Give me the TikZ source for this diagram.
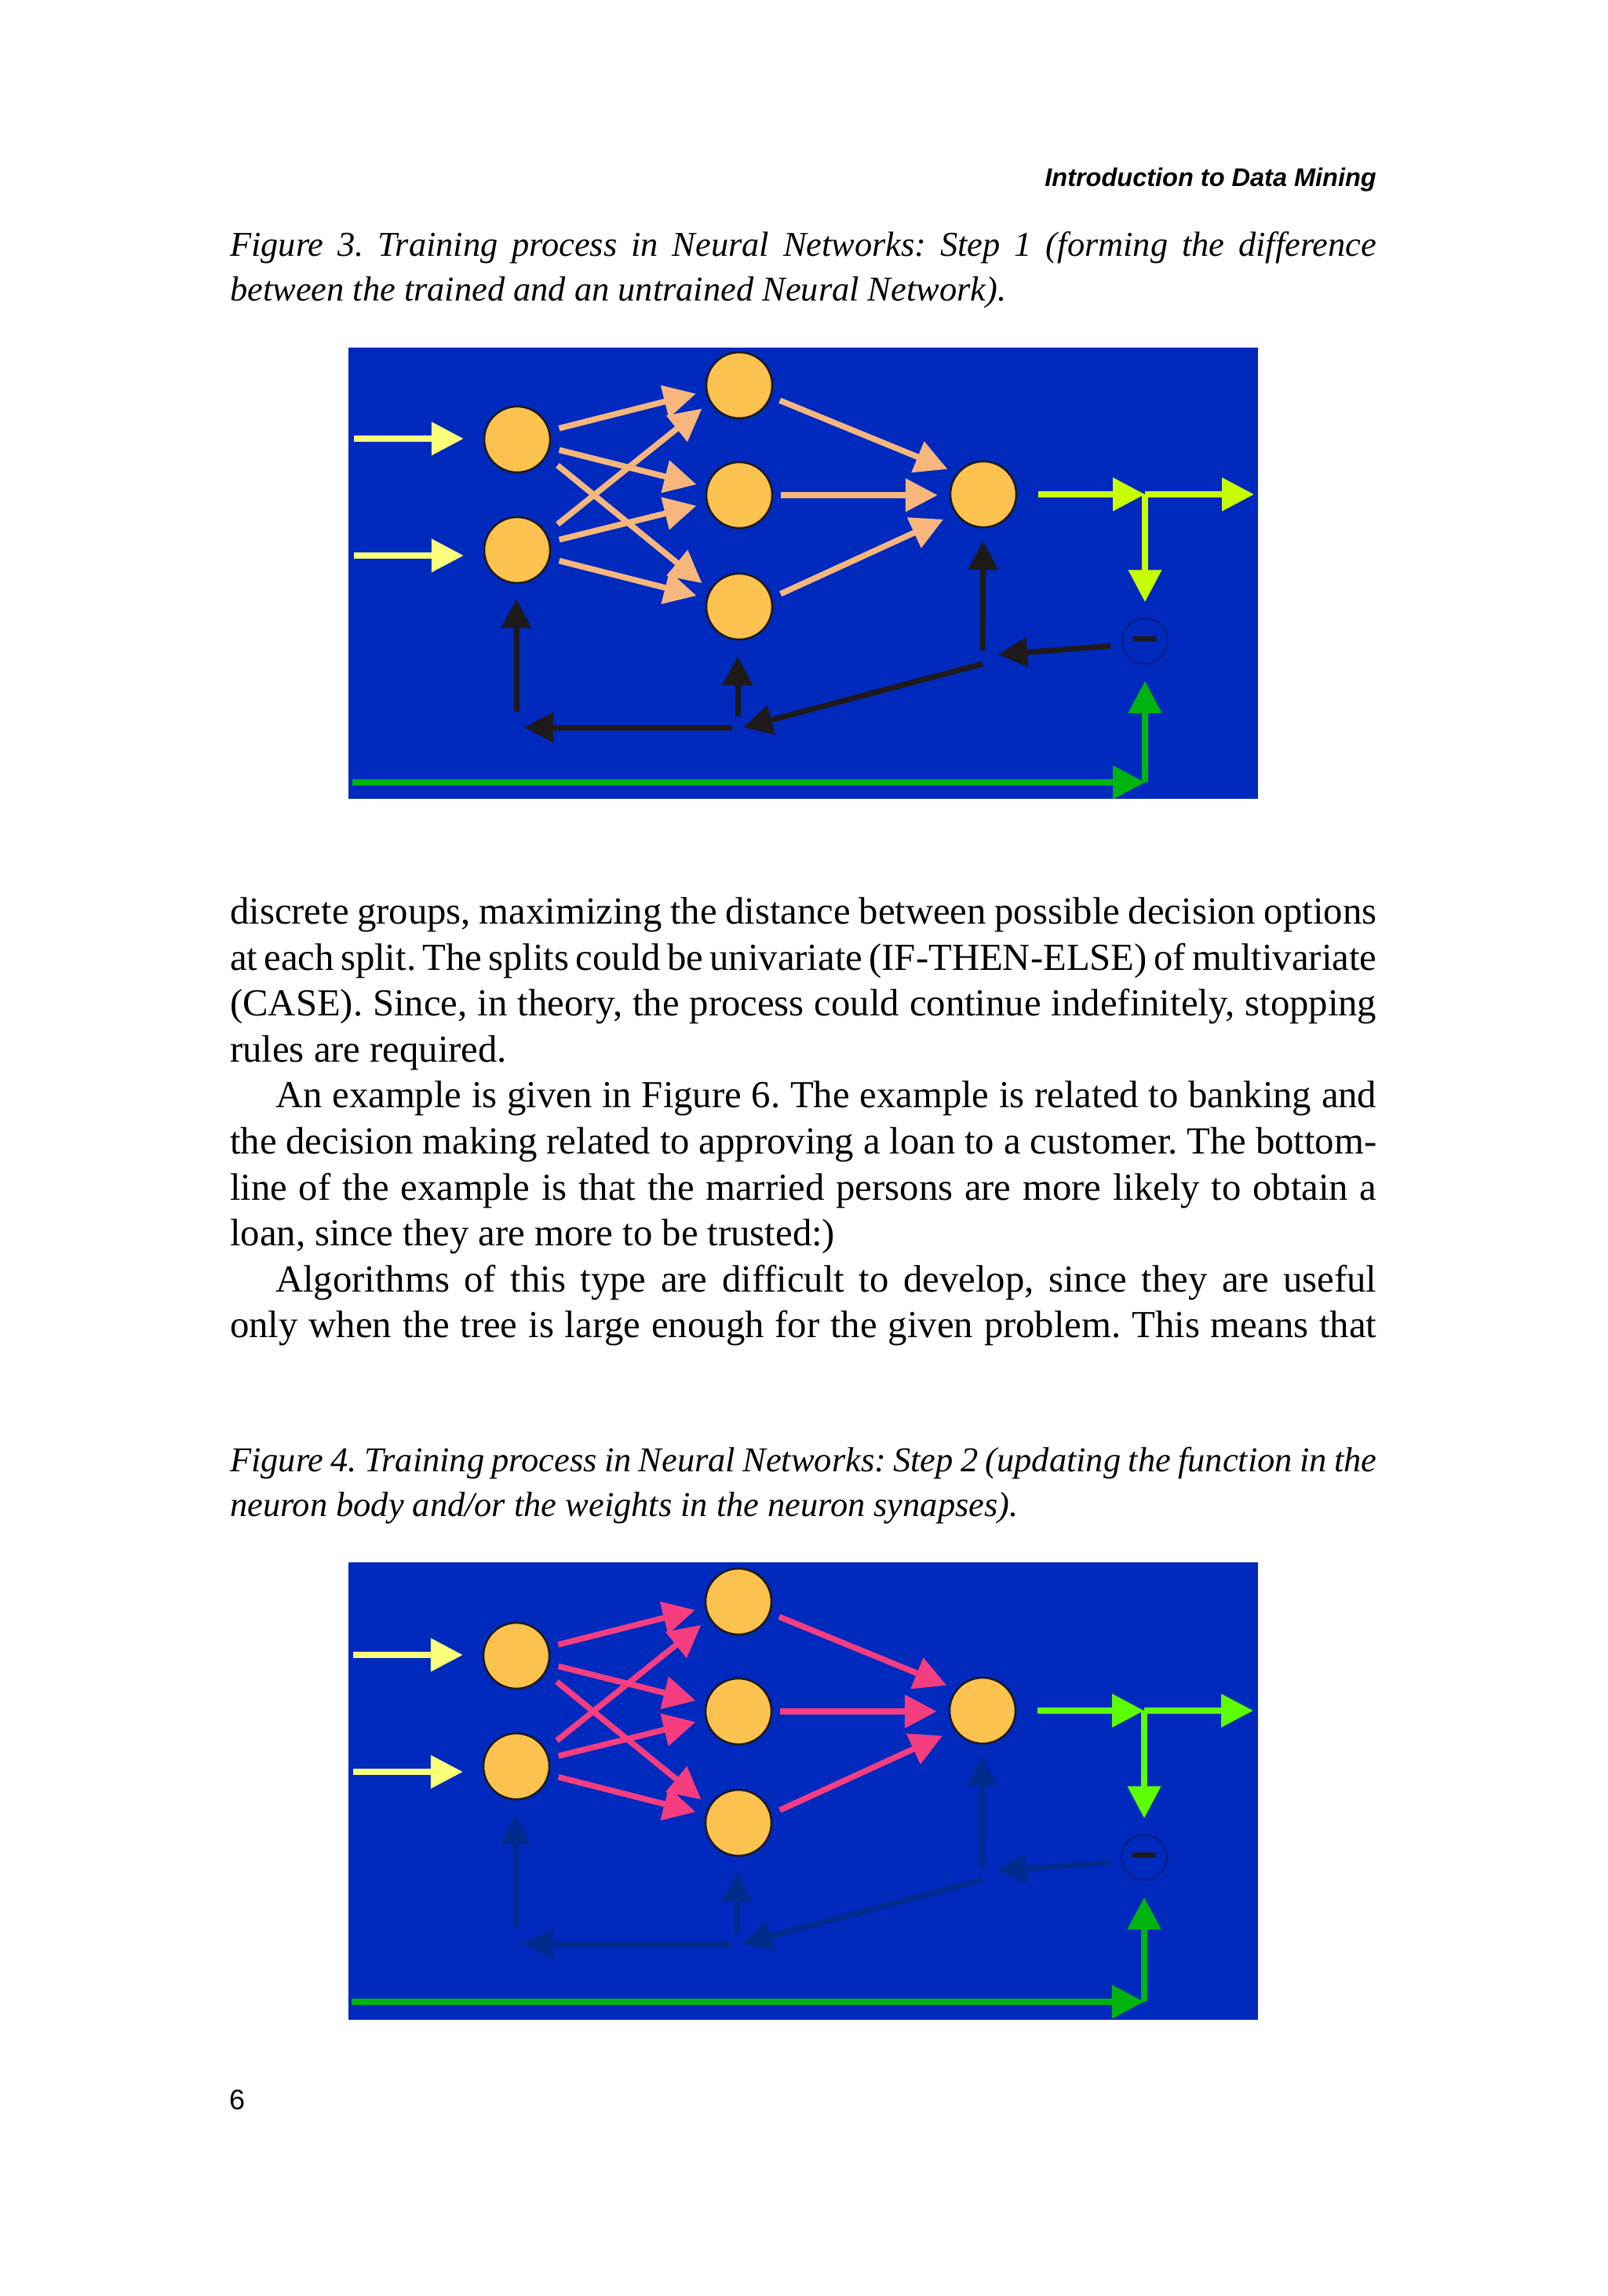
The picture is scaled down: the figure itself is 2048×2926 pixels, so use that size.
\documentclass[tikz,border=0pt]{standalone}
\usepackage{fontspec}
\setmainfont{Liberation Serif}
\newfontfamily\headfont{Liberation Sans}
\usetikzlibrary{arrows.meta}
\definecolor{netblue}{HTML}{0029BE}
\definecolor{bodyfill}{HTML}{FCC24F}
\definecolor{bodyedge}{HTML}{1E1A1A}
\definecolor{inyellow}{HTML}{FAFF7A}
\definecolor{salmon}{HTML}{F7B77C}
\definecolor{rosepink}{HTML}{F53D7F}
\definecolor{limegreen}{HTML}{C8FF00}
\definecolor{brightgreen}{HTML}{5CFF00}
\definecolor{darkgreen}{HTML}{00B410}
\definecolor{backblack}{HTML}{1E1A1A}
\definecolor{backnavy}{HTML}{002A8C}
\definecolor{diffedge}{HTML}{0A1A70}
\newcommand{\justline}[2][1461pt]{\hbox to #1{\frenchspacing\spaceskip=.25em plus 1em minus .2em #2}}
\tikzset{
  neuron/.style={circle,draw=bodyedge,fill=bodyfill,line width=2.5pt,minimum size=84pt,inner sep=0pt},
  diffnode/.style={circle,draw=diffedge,line width=1.5pt,minimum size=58pt,inner sep=0pt,text=bodyedge,font=\headfont\bfseries\fontsize{60}{60}\selectfont},
  wire/.style={line width=7.5pt,-{Triangle[length=41pt,width=41pt]}},
  synapse/.style={wire,shorten <=12pt,shorten >=13pt},
  backwire/.style={line width=7pt,-{Triangle[length=37pt,width=37pt]}},
  bodytext/.style={anchor=base west,inner sep=0pt,font=\frenchspacing\fontsize{48.7}{58}\selectfont},
  captext/.style={anchor=base west,inner sep=0pt,font=\frenchspacing\itshape\fontsize{44.4}{57}\selectfont},
}
% #1 shift, #2 prefix, #3 synapses, #4 output, #5 feedback, #6 bottom offset
\newcommand{\trainnet}[6]{
  \begin{scope}[shift={#1},name prefix=#2-]
    \node[neuron] (n11) at (659,560) {};
    \node[neuron] (n12) at (659,701) {};
    \node[neuron] (n21) at (942,491) {};
    \node[neuron] (n22) at (942,631) {};
    \node[neuron] (n23) at (942,773) {};
    \node[neuron] (out) at (1253,630) {};
    \node[diffnode] (diff) at (1459,817) {\raisebox{-.57em}{\smash{−}}};
    \coordinate (in1) at (451,559);
    \coordinate (in2) at (451,708);
    \coordinate (split) at (1459,630);
    \coordinate (exit) at (1598,630);
    \coordinate (fbin) at (1272,834);
    \coordinate (fbup) at (1252,829);
    \coordinate (fbdiag) at (1252,846);
    \coordinate (fbjoin) at (947,927);
    \coordinate (fbmid) at (940,913);
    \coordinate (fbright) at (933,927);
    \coordinate (fbleft) at (668,927);
    \coordinate (fbn12) at (658,907);
    \coordinate (target) at (449,997+#6);
    \coordinate (corner) at (1459,997+#6);
    \begin{scope}[inyellow]
      \draw[wire,shorten >=25pt] (in1) -- (in1 -| n11.west);
      \draw[wire,shorten >=25pt] (in2) -- (in2 -| n12.west);
    \end{scope}
    \begin{scope}[#3]
      \draw[synapse] (n11.15) -- (n21.190);
      \draw[synapse] (n11) -- (n22);
      \draw[synapse,shorten <=18pt] (n11.-30) -- (n23.150);
      \draw[synapse,shorten <=18pt] (n12.30) -- (n21.210);
      \draw[synapse] (n12) -- (n22);
      \draw[synapse] (n12) -- (n23);
      \draw[synapse] (n21.-20) -- (out.141);
      \draw[synapse,shorten <=10pt,shorten >=15pt] (n22.east) -- (n22.east -| out.west);
      \draw[synapse,shorten >=17pt] (n23.15) -- (out.215);
    \end{scope}
    \begin{scope}[#4]
      \draw[wire,shorten <=27pt] (out.east) -- (split);
      \draw[wire] (split) -- (exit);
      \draw[wire,shorten >=20pt] (split) -- (diff.north);
    \end{scope}
    \begin{scope}[#5]
      \draw[backwire,shorten <=15pt] (diff.190) -- (fbin);
      \draw[backwire,shorten >=16pt] (fbup) -- (out.south);
      \draw[backwire] (fbdiag) -- (fbjoin);
      \draw[backwire,shorten >=20pt] (fbmid) -- (fbmid |- n23.south);
      \draw[backwire] (fbright) -- (fbleft);
      \draw[backwire,shorten >=19pt] (fbn12) -- (fbn12 |- n12.south);
    \end{scope}
    \begin{scope}[darkgreen]
      \draw[wire] (target) -- (corner);
      \draw[wire,shorten >=21pt] (corner) -- (diff.south);
    \end{scope}
  \end{scope}
}
\begin{document}
\begin{tikzpicture}[x=1pt,y=-1pt]
  \useasboundingbox (0,0) rectangle (2048,2926);
  \node[anchor=base east,inner sep=0pt,font=\headfont\bfseries\itshape\fontsize{32.5}{40}\selectfont] (head) at (1754,237) {Introduction to Data Mining};
  \node[captext] (cap3a) at (293,326) {\justline{Figure 3. Training process in Neural Networks: Step 1 (forming the difference}};
  \node[captext] (cap3b) at (293,383) {between the trained and an untrained Neural Network).};
  \fill[netblue] (444,443) rectangle (1603,1018);
  \trainnet{(0,0)}{top}{salmon}{limegreen}{backblack}{0}
  \node[bodytext] (b1) at (293,1177) {\justline{discrete groups, maximizing the distance between possible decision options}};
  \node[bodytext] (b2) at (293,1236) {\justline{at each split. The splits could be univariate (IF-THEN-ELSE) of multivariate}};
  \node[bodytext] (b3) at (293,1294) {\justline{(CASE). Since, in theory, the process could continue indefinitely, stopping}};
  \node[bodytext] (b4) at (293,1353) {rules are required.};
  \node[bodytext] (b5) at (351,1411) {\justline[1403pt]{An example is given in Figure 6. The example is related to banking and}};
  \node[bodytext] (b6) at (293,1470) {\justline{the decision making related to approving a loan to a customer. The bottom-}};
  \node[bodytext] (b7) at (293,1529) {\justline{line of the example is that the married persons are more likely to obtain a}};
  \node[bodytext] (b8) at (293,1587) {loan, since they are more to be trusted:)};
  \node[bodytext] (b9) at (351,1646) {\justline[1403pt]{Algorithms of this type are difficult to develop, since they are useful}};
  \node[bodytext] (b10) at (293,1704) {\justline{only when the tree is large enough for the given problem. This means that}};
  \node[captext] (cap4a) at (293,1875) {\justline{Figure 4. Training process in Neural Networks: Step 2 (updating the function in the}};
  \node[captext] (cap4b) at (293,1932) {neuron body and/or the weights in the neuron synapses).};
  \fill[netblue] (444,1991) rectangle (1603,2574);
  \trainnet{(-1,1550)}{bottom}{rosepink}{brightgreen}{backnavy}{4}
  \node[anchor=base west,inner sep=0pt,font=\headfont\fontsize{36}{40}\selectfont] (page) at (292,2688) {6};
\end{tikzpicture}
\end{document}
